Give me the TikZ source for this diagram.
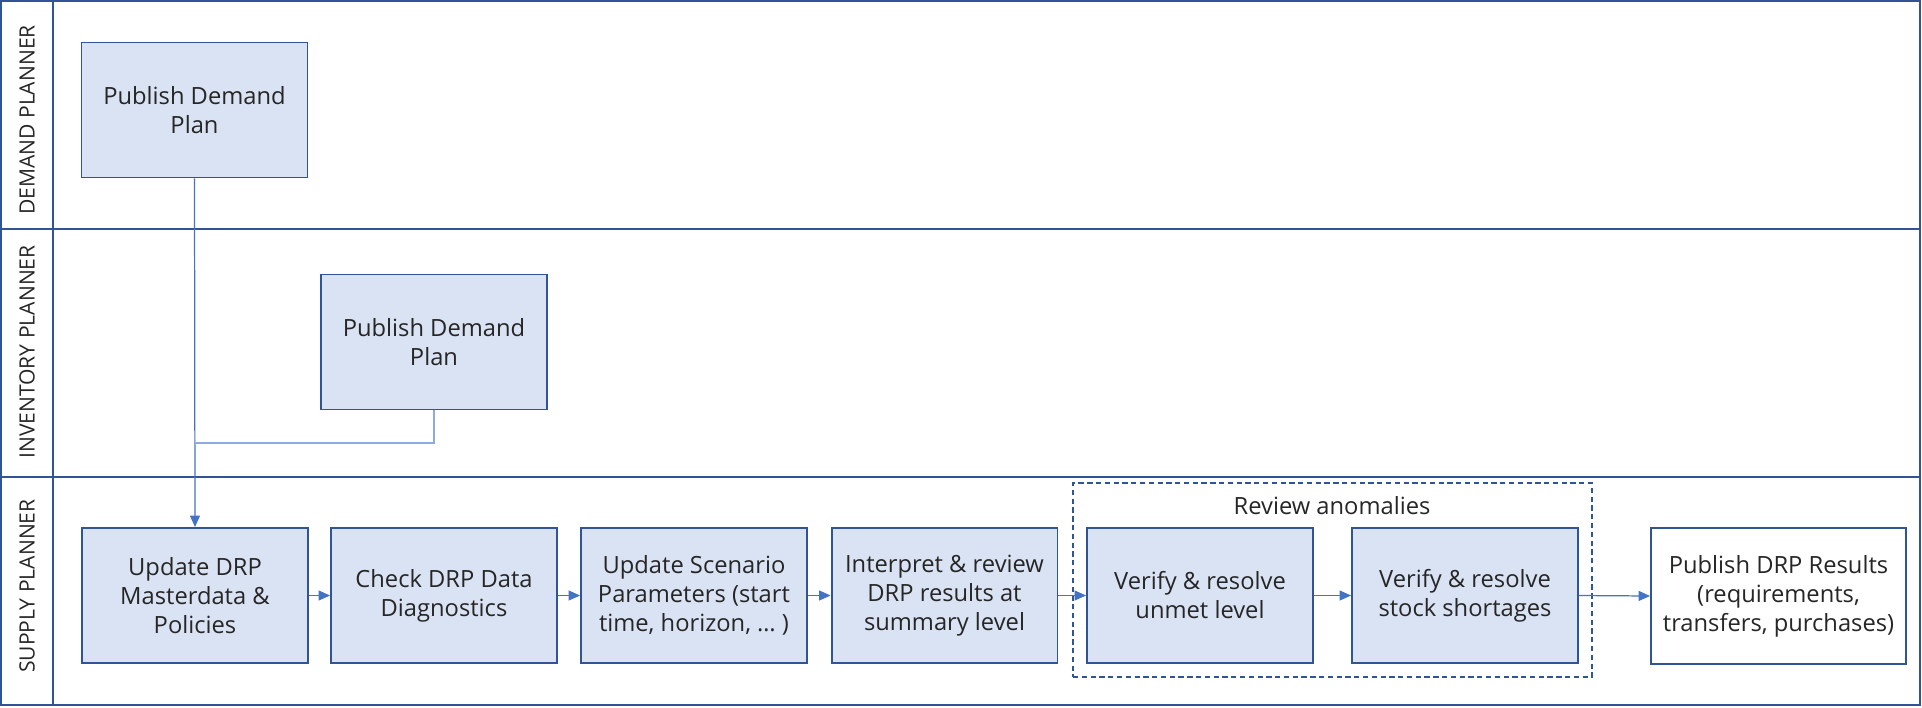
\documentclass[tikz,border=0pt]{standalone}
\usepackage{fontspec}
\setmainfont{Open Sans}
\usetikzlibrary{arrows.meta,positioning}
\definecolor{laneblue}{HTML}{2F5597}
\definecolor{boxfill}{HTML}{DAE3F3}
\definecolor{flowblue}{HTML}{4472C4}
\definecolor{paleblue}{HTML}{8FAADC}
\definecolor{txtgray}{HTML}{262626}
\tikzset{every picture/.style={line width=0.75pt}}

\begin{document}
\begin{tikzpicture}[x=0.02cm, y=-0.02cm,
    lane/.style={draw=laneblue, line width=1.1pt},
    lanelabel/.style={rotate=90, text=txtgray, font=\fontsize{12}{14}\selectfont},
    task/.style={draw=laneblue, line width=1.1pt, fill=boxfill, minimum width=4.52cm,
        minimum height=2.7cm, align=center, text=txtgray, inner sep=0pt,
        font=\fontsize{13.5}{16.5}\selectfont},
    result/.style={task, fill=white, minimum width=5.1cm, minimum height=2.72cm},
    group/.style={draw=laneblue, dashed, dash pattern=on 3pt off 2pt, line width=0.9pt,
        minimum width=10.38cm, minimum height=3.88cm, inner sep=0pt},
    flow/.style={draw=flowblue, line width=0.7pt, -{Triangle[length=0.23cm,width=0.2cm]}},
    feed/.style={draw=paleblue, line width=0.9pt}]
    \useasboundingbox (0,0) rectangle (1922,707);

    % swimlanes
    \draw[lane] (1,1) rectangle (1920,705);
    \draw[lane] (53,1) -- (53,705);
    \draw[lane] (1,229) -- (1920,229);
    \draw[lane] (1,477) -- (1920,477);

    % lane names
    \node[lanelabel] (demandlane) at (27,120) {DEMAND PLANNER};
    \node[lanelabel] (invlane) at (27,352) {INVENTORY PLANNER};
    \node[lanelabel] (supplylane) at (27,586) {SUPPLY PLANNER};

    % demand planner / inventory planner
    \node[task] (dpplan) at (194.5,110) {Publish Demand\\Plan};
    \node[task] (ipplan) at (434,342) {Publish Demand\\Plan};

    % review group
    \node[group] (review) at (1332.5,580) {};
    \node[text=txtgray, font=\fontsize{13.5}{16.5}\selectfont] (reviewlbl) at (1332,506) {Review anomalies};

    % supply planner
    \node[task] (masterdata) at (195,595.5) {Update DRP\\Masterdata \&\\Policies};
    \node[task] (diagnostics) at (444,595.5) {Check DRP Data\\Diagnostics};
    \node[task] (scenario) at (694,595.5) {Update Scenario\\Parameters (start\\time, horizon, … )};
    \node[task] (summary) at (944.5,595.5) {Interpret \& review\\DRP results at\\summary level};
    \node[task] (unmet) at (1200,595.5) {Verify \& resolve\\unmet level};
    \node[task] (shortage) at (1465,595.5) {Verify \& resolve\\stock shortages};
    \node[result] (publish) at (1778.5,596) {Publish DRP Results\\(requirements,\\transfers, purchases)};

    % connectors
    \coordinate (merge) at (195,443);
    \draw[flow] (dpplan.south) -- (masterdata.north);
    \draw[feed] (ipplan.south) |- (merge);
    \draw[flow] (masterdata.east) -- (diagnostics.west);
    \draw[flow] (diagnostics.east) -- (scenario.west);
    \draw[flow] (scenario.east) -- (summary.west);
    \draw[flow] (summary.east) -- (unmet.west);
    \draw[flow] (unmet.east) -- (shortage.west);
    \draw[flow] (shortage.east) -- (publish.west);
\end{tikzpicture}
\end{document}
